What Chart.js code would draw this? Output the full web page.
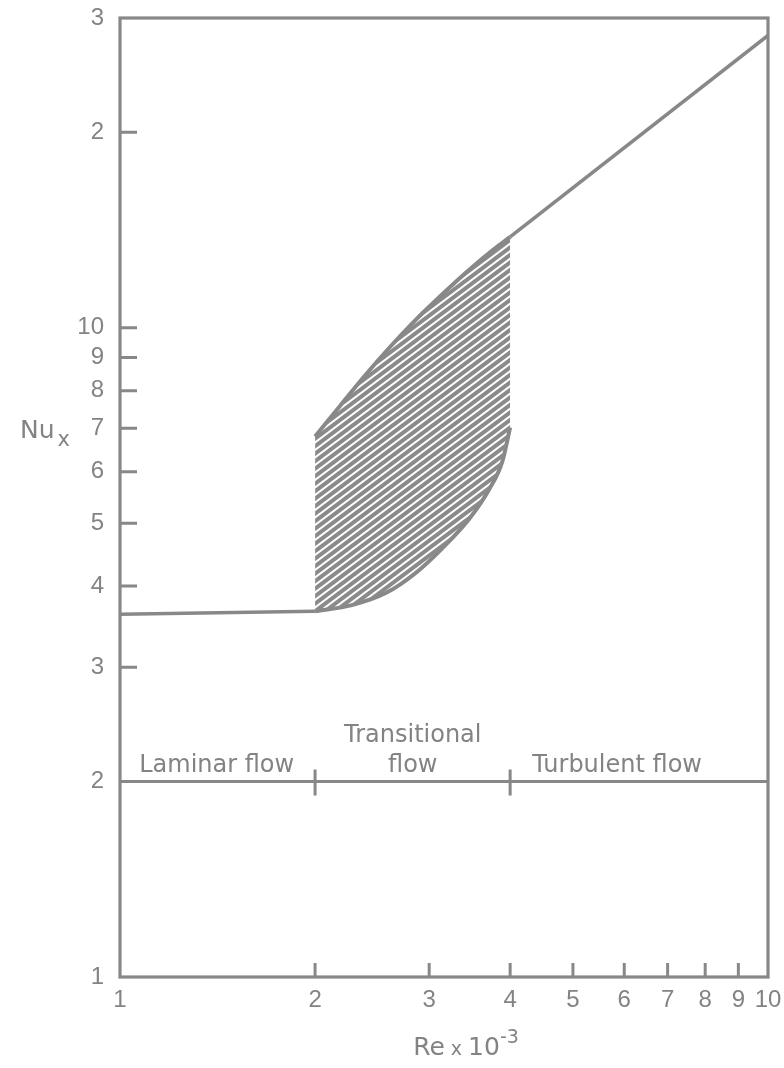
<!DOCTYPE html>
<html><head><meta charset="utf-8">
<script src="https://cdn.jsdelivr.net/npm/chart.js@4.4.1/dist/chart.umd.min.js"></script>
<style>html,body{margin:0;padding:0;background:#fff;}canvas{display:block;}</style>
</head><body>
<canvas id="c" width="784" height="1068"></canvas>
<script>
// ---- data ----
const reTicks = [1, 2, 3, 4, 5, 6, 7, 8, 9, 10];
const nuTicks = [1, 2, 3, 4, 5, 6, 7, 8, 9, 10, 20, 30];
const nuTickLabels = ['1', '2', '3', '4', '5', '6', '7', '8', '9', '10', '2', '3'];

const laminarRe = [1, 2];
const laminarNu = [3.62, 3.66];
const upperRe = [2.0, 2.19, 2.39, 2.61, 2.85, 3.12, 3.41, 3.72, 4.0];
const upperNu = [6.80, 7.60, 8.45, 9.34, 10.25, 11.18, 12.13, 13.06, 13.8];
const lowerRe = [2.0, 2.28, 2.58, 2.85, 3.14, 3.46, 3.71, 3.89, 4.0];
const lowerNu = [3.66, 3.74, 3.91, 4.18, 4.57, 5.08, 5.63, 6.22, 7.02];
const turbulentRe = [4, 10];
const turbulentNu = [13.8, 28.2];

const regimeBounds = [1, 2, 4, 10];
const regimeLineNu = 2;
const regimeLabels = [['Laminar flow'], ['Transitional', 'flow'], ['Turbulent flow']];
const regimeLabelRe = [1.41, 2.83, 5.85];

// ---- styling ----
const LINE = '#888888';
const TEXT = '#838383';
const FONT = "'DejaVu Sans', 'Liberation Sans', sans-serif";
const TICKFONT = "'Liberation Sans', Arial, sans-serif";

function makeHatch() {
  const W = 40, H = 30, p = 7.5;
  const c = document.createElement('canvas');
  c.width = W; c.height = H;
  const g = c.getContext('2d');
  g.strokeStyle = '#8a8a8a';
  g.lineWidth = 4;
  for (let k = -2; k <= 10; k++) {
    const y0 = k * p;
    g.beginPath();
    g.moveTo(-4, y0 + 3);
    g.lineTo(W + 4, y0 - (W + 4) * 0.75);
    g.stroke();
  }
  return g.createPattern(c, 'repeat');
}

const pts = (xs, ys) => xs.map((x, i) => ({ x, y: ys[i] }));
const ds = (label, xs, ys, extra) => Object.assign({
  label, data: pts(xs, ys), borderColor: LINE, borderWidth: 3.5,
  pointRadius: 0, fill: false, tension: 0
}, extra || {});

const decor = {
  id: 'decor',
  afterDatasetsDraw(chart) {
    const { ctx, chartArea: a, scales: { x, y } } = chart;
    ctx.save();
    ctx.strokeStyle = LINE;
    ctx.lineWidth = 3.2;
    ctx.strokeRect(a.left, a.top, a.right - a.left, a.bottom - a.top);
    ctx.lineWidth = 3;
    ctx.beginPath();
    nuTicks.forEach(v => {
      if (v <= regimeLineNu || v >= nuTicks[nuTicks.length - 1]) return;
      const py = y.getPixelForValue(v);
      ctx.moveTo(a.left, py); ctx.lineTo(a.left + 17, py);
    });
    reTicks.forEach(v => {
      if (v === reTicks[0] || v === reTicks[reTicks.length - 1]) return;
      const px = x.getPixelForValue(v);
      ctx.moveTo(px, a.bottom); ctx.lineTo(px, a.bottom - 14);
    });
    const ly = y.getPixelForValue(regimeLineNu);
    regimeBounds.slice(1, -1).forEach(v => {
      const px = x.getPixelForValue(v);
      ctx.moveTo(px, ly - 12); ctx.lineTo(px, ly + 14);
    });
    ctx.stroke();

    ctx.fillStyle = TEXT;
    ctx.font = '24px ' + FONT;
    ctx.textAlign = 'center';
    ctx.textBaseline = 'alphabetic';
    regimeLabels.forEach((lines, i) => {
      const px = x.getPixelForValue(regimeLabelRe[i]);
      lines.forEach((t, j) => ctx.fillText(t, px, ly - 10 - (lines.length - 1 - j) * 30));
    });

    // y axis title Nu_x
    ctx.textAlign = 'left';
    ctx.font = '25px ' + FONT;
    ctx.fillText('Nu', 20, 438);
    const wNu = ctx.measureText('Nu').width;
    ctx.font = '21px ' + FONT;
    ctx.fillText('x', 20 + wNu + 3, 446);

    // x axis title Re x 10^-3
    const parts = [
      { t: 'Re', f: '25px ', dy: 0 },
      { t: ' x ', f: '19px ', dy: 0 },
      { t: '10', f: '25px ', dy: 0 },
      { t: '-3', f: '19px ', dy: -12 }
    ];
    let total = 0;
    parts.forEach(p => { ctx.font = p.f + FONT; p.w = ctx.measureText(p.t).width; total += p.w; });
    let cx = 466 - total / 2;
    parts.forEach(p => { ctx.font = p.f + FONT; ctx.fillText(p.t, cx, 1055 + p.dy); cx += p.w; });
    ctx.restore();
  }
};

new Chart(document.getElementById('c'), {
  type: 'line',
  data: {
    datasets: [
      ds('Transitional upper bound', upperRe, upperNu, { fill: { target: 1 }, backgroundColor: makeHatch(), cubicInterpolationMode: 'monotone', borderWidth: 4 }),
      ds('Transitional lower bound', lowerRe, lowerNu, { cubicInterpolationMode: 'monotone', borderWidth: 4 }),
      ds('Laminar', laminarRe, laminarNu),
      ds('Turbulent', turbulentRe, turbulentNu),
      ds('Regime boundary', [regimeBounds[0], regimeBounds[regimeBounds.length - 1]], [regimeLineNu, regimeLineNu], { borderWidth: 3 })
    ]
  },
  options: {
    responsive: false,
    animation: false,
    devicePixelRatio: 1,
    layout: { padding: { top: 18, right: 16, bottom: 0, left: 0 } },
    plugins: { legend: { display: false }, tooltip: { enabled: false }, filler: { propagate: false } },
    scales: {
      x: {
        type: 'logarithmic', min: 1, max: 10, position: 'bottom',
        grid: { display: false, drawTicks: false }, border: { display: false },
        afterBuildTicks: s => { s.ticks = reTicks.map(v => ({ value: v })); },
        afterFit: s => { s.height = 91; s.paddingLeft = 0; s.paddingRight = 0; },
        ticks: {
          autoSkip: false, maxRotation: 0, minRotation: 0, padding: 9, color: TEXT,
          font: { family: TICKFONT, size: 24 },
          callback: (v, i) => String(reTicks[i])
        }
      },
      y: {
        type: 'logarithmic', min: 1, max: 30,
        grid: { display: false, drawTicks: false }, border: { display: false },
        afterBuildTicks: s => { s.ticks = nuTicks.map(v => ({ value: v })); },
        afterFit: s => { s.width = 120; s.paddingTop = 0; s.paddingBottom = 0; },
        ticks: {
          autoSkip: false, padding: 16, color: TEXT,
          font: { family: TICKFONT, size: 24 },
          callback: (v, i) => nuTickLabels[i]
        }
      }
    }
  },
  plugins: [decor]
});
</script>
</body></html>
